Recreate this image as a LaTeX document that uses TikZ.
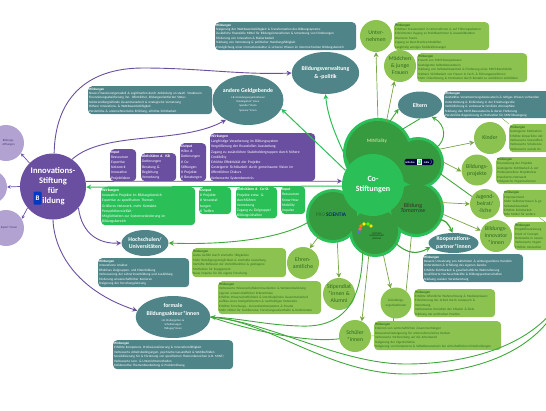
\documentclass[tikz,border=0pt]{standalone}
\usepackage{fontspec}
\setmainfont{Carlito}
\usetikzlibrary{shapes.geometric,arrows.meta,positioning,calc}
\definecolor{tealbox}{HTML}{4F8489}
\definecolor{purplemain}{HTML}{6A4FA0}
\definecolor{purplelight}{HTML}{B1A2D2}
\definecolor{greenmain}{HTML}{2BBF58}
\definecolor{greendark}{HTML}{369A3E}
\definecolor{greenlight}{HTML}{8CC350}
\definecolor{greenline}{HTML}{3FA83A}
\definecolor{greentext}{HTML}{2F6A22}
\newcommand{\subline}{\fontsize{2.8}{3.8}\selectfont\mdseries}

\begin{document}
\begin{tikzpicture}[x=1pt,y=-1pt,>={Stealth[length=5pt,width=5pt]},
            box/.style={rectangle, rounded corners=4pt, fill=#1, text=white, inner sep=1pt, anchor=north west, align=left, font=\fontsize{3.3}{4.4}\selectfont},
            smallbox/.style={box=#1, font=\fontsize{3.7}{5.2}\selectfont},
            limebox/.style={box=greenlight, text=greentext},
            blob/.style={ellipse, fill=tealbox, text=white, inner sep=0pt, align=center, font=\fontsize{5.8}{7.4}\selectfont\bfseries},
            lime/.style={circle, fill=greenlight, text=greentext, inner sep=0pt, minimum size=32pt, align=center, font=\fontsize{5.8}{7}\selectfont},
            petal/.style={circle, fill=greendark, inner sep=0pt},
            side/.style={circle, fill=purplelight, text=purplemain!70!black, inner sep=0pt, minimum size=36pt, align=center, font=\fontsize{3}{3.8}\selectfont},
            purpleline/.style={draw=purplemain, line width=0.9pt, ->},
            brightline/.style={draw=greenmain, line width=1pt},
            greenlink/.style={draw=greenline, line width=0.9pt},
            limelink/.style={draw=greenlight!85!black, line width=0.7pt}]

            \useasboundingbox (0,0) rectangle (546,410);

            % Flower outline
            \foreach \px/\py/\pr in {378/153/32, 418/163/23, 416/209/25, 375/231/23, 333/216/24}
                \fill[greenmain] (\px,\py) circle ({(\pr+3)*1pt});

            % Flower petals
            \node[petal, minimum size=64pt] (mint) at (378,153) {};
            \node[petal, minimum size=46pt] (india) at (418,163) {};
            \node[petal, minimum size=50pt] (tomorrow) at (416,209) {};
            \node[petal, minimum size=46pt] (bunt) at (375,231) {};
            \node[petal, minimum size=48pt] (scientia) at (333,216) {};
            \node[circle, fill=greenmain, text=white, inner sep=0pt, minimum size=62pt, align=center, font=\fontsize{8}{10}\selectfont\bfseries] (costift) at (373,185) {Co-\\Stiftungen};

            % Logos on the petals
            \node[text=greenlight!60!white, font=\fontsize{5}{6}\selectfont\bfseries] (mintlogo) at (377,141) {MINTality};
            \node[fill=black!75!blue, rounded corners=1.5pt, text=white, inner sep=0.6pt, font=\fontsize{2.6}{3}\selectfont\bfseries] (indialogo) at (419,162) {Initiative\hspace{9pt}India $\rangle$};
            \node[fill=greenmain, draw=white, line width=0.3pt, text=white, inner sep=0.8pt, font=\fontsize{5}{5}\selectfont\bfseries] (indiafour) at (419,161.5) {4};
            \node[text=black!80, font=\fontsize{6}{5.5}\selectfont, align=center] (tomorrowlogo) at (413,208) {Bildung\\\textit{Tomorrow}};
            \node[text=blue!55!black, font=\fontsize{5.4}{6}\selectfont] (scientialogo) at (331,215) {\textcolor{greendark!70!black}{PRO}\,SCIENTIA};
            \foreach \cx/\cy/\cc in {360/229/red!60, 361/226/orange, 364/224/yellow, 368/224/green!70!yellow, 371/226/yellow!80!orange, 359/232/blue!60}
                \fill[\cc] (\cx,\cy) circle (1.8pt);
            \node[text=greendark!30!black, align=center, font=\fontsize{2.3}{2.6}\selectfont] (buntlogo) at (377,236) {STIFTUNG\\WISSENSCHAFT\\BILDUNG};

            % Innovation foundation and its neighbours
            \node[circle, fill=purplemain, text=white, inner sep=0pt, minimum size=66pt, align=center, font=\fontsize{8.6}{10}\selectfont\bfseries] (innov) at (53,186.5) {Innovations-\\Stiftung\\für\\\hspace*{9pt}ildung\hspace*{8pt}};
            \node[rectangle, rounded corners=1pt, fill=blue!55!teal, text=white, inner sep=0pt, minimum width=8pt, minimum height=13pt, font=\fontsize{7}{7}\selectfont\bfseries] (innovlogo) at (37.5,198) {B};
            \node[side] (stiftungen) at (6,143) {\hspace*{5pt}Bildungs-\\\hspace*{5pt}stiftungen};
            \node[side, minimum size=34pt] (mitte) at (-10,187) {};
            \node[side] (expert) at (6,228) {\hspace*{6pt}Expert*innen};

            % Teal ellipses
            \node[blob, minimum width=70pt, minimum height=50pt] (geld) at (248,100) {andere Geldgebende\\[-1.5pt]\subline z.B. Gründungsorganisationen\\[-3pt]\subline Kindergarten*innen\\[-3pt]\subline Spender*innen\\[-3pt]\subline Sponsor*innen};
            \node[blob, minimum width=67pt, minimum height=42pt] (bverw) at (325.5,73) {Bildungsverwaltung\\\& -politik};
            \node[blob, minimum width=44pt, minimum height=27pt] (eltern) at (420,105) {Eltern};
            \node[blob, minimum width=46pt, minimum height=26pt] (hochschule) at (145,243) {Hochschulen/\\Universitäten};
            \node[blob, minimum width=74pt, minimum height=42pt] (formal) at (173,317) {formale\\Bildungsakteur*innen\\[-1.5pt]\subline z.B. Kindergarten- \&\\[-3pt]\subline Schulleitungen\\[-3pt]\subline Pädagog*innen};
            \node[blob, minimum width=50pt, minimum height=20pt] (koop) at (453.5,243) {Kooperations-\\partner*innen};

            % Lime circles
            \node[lime] (untern) at (376,36) {Unter-\\nehmen};
            \node[lime] (maedchen) at (400,66) {Mädchen\\\& junge\\Frauen};
            \node[lime] (kinder) at (490,138) {Kinder};
            \node[lime, minimum size=31pt] (projekt) at (477,170) {Bildungs-\\projekte};
            \node[lime, minimum size=30pt] (jugend) at (485,204) {Jugend-\\beirat/\\-liche};
            \node[lime] (innovator) at (496,236) {Bildungs-\\Innovator\\*innen};
            \node[lime] (ehren) at (303,263) {Ehren-\\amtliche};
            \node[lime] (stipendiat) at (339,294) {Stipendiat\\*innen \&\\Alumni};
            \node[lime, minimum size=31pt, font=\fontsize{3.4}{4.4}\selectfont] (gruend) at (396,303) {Gründungs-\\organisationen};
            \node[lime] (schueler) at (355,336) {Schüler\\*innen};

            % Teal boxes
            \node[box=tealbox, text width=139pt, minimum height=28pt] (wirkbverw) at (215,22) {\textbf{Wirkungen}\\Steigerung der Wettbewerbsfähigkeit \& Transformation des Bildungssystems\\Zusätzliche finanzielle Mittel für Bildungsinnovationen \& Umsetzung von Förderungen\\Förderung von Innovation \& Skalierbarkeit\\Stärkung von Vernetzung \& politischer Handlungsfähigkeit\\Ermöglichung einer Innovationskultur \& sicheren Wissen im österreichischen Bildungsbereich};
            \node[box=tealbox, text width=122pt, minimum height=28pt] (wirkgeld) at (88,86) {\textbf{Wirkungen}\\Neues Finanzierungsmodell \& Legitimation durch Anbindung an staatl. Strukturen\\Finanzierungsabsicherung inn. öffentlicher, bildungsorientierten Status\\Sektorenübergreifende Zusammenarbeit \& strategische Vernetzung\\Höhere Innovations- \& Wettbewerbsfähigkeit\\Persönliche \& unternehmerische Erfüllung, erhöhte Sichtbarkeit};
            \node[box=tealbox, text width=114pt, minimum height=27pt] (wirkeltern) at (444,91) {\textbf{Wirkungen}\\Gestärktes Verantwortungsbewusstsein \& nötiges Wissen vorhanden\\Unterstützung \& Einbindung in der Erziehungsrolle\\Verbildlichung \& verbesserte familiäre Atmosphäre\\Stärkung des MINT-Bewusstseins \& deren Förderung\\Persönliche Begeisterung \& Motivation für MINT-Bewegung};
            \node[box=tealbox, text width=89pt, minimum height=29pt] (wirkhoch) at (98,258) {\textbf{Wirkungen}\\Innovativere Ansätze\\Effektives Zielgruppen- und Elternbildung\\Verbesserung der Lehrerinnenbildung und Ausbildung\\Förderung wissenschaftlicher Karrieren\\Steigerung der Forschungsleistung};
            \node[box=tealbox, text width=118pt, minimum height=29pt] (wirkformal) at (113,340) {\textbf{Wirkungen}\\Erhöhte Kompetenz, Professionalisierung \& Innovationsfähigkeit\\Verbesserte Arbeitsbedingungen, psychische Gesundheit \& Wohlbefinden\\Sensibilisierung für \& Förderung von spezifischen Themenbereichen (z.B. MINT)\\Verbesserte Lern- \& Unterrichtsmethoden\\Kollaborative Themenbearbeitung \& Problemlösung};
            \node[box=tealbox, text width=98pt, minimum height=28pt] (wirkkoop) at (423,254) {\textbf{Wirkungen}\\Bessere Umsetzung von Aktivitäten \& wirkungsvolleres Handeln\\Unterstützen \& Erfüllung des eigenen Zwecks\\Erhöhte Sichtbarkeit \& gesellschaftliche Wahrnehmung\\Qualifizierte Nachwuchskräfte \& Bildungspartnerschaften\\Stärkung sozialer Verantwortung};

            % Purple boxes
            \node[smallbox=purplemain, text width=24pt, minimum height=32pt] (input) at (110,149) {\textbf{Input}\\Ressourcen\\Expertise\\Netzwerk\\Innovative\\Projektideen};
            \node[smallbox=purplemain, text width=33pt, minimum height=28pt] (aktiv) at (141,153) {\textbf{Aktivitäten d. ISB}\\Dotierungen\\Beratung \&\\Begleitung\\Vernetzung};
            \node[smallbox=purplemain, text width=24pt, minimum height=38pt] (output) at (180,143) {\textbf{Output}\\Höhe d.\\Dotierungen\\\# Co-\\Stiftungen\\\# Projekte\\\# Beratungen};
            \node[smallbox=purplemain, text width=103pt, minimum height=48pt] (wirkinnov) at (210,133) {\textbf{Wirkungen}\\Langfristige Verankerung im Bildungssystem\\Vergrößerung der finanziellen Ausstattung\\Zugang zu zusätzlichen Stakeholdergruppen durch höhere\\Credibility\\Erhöhte Effektivität der Projekte\\Gesteigerte Sichtbarkeit durch gemeinsame Vision im\\öffentlichen Diskurs\\Verbesserte Systemkenntnis};

            % Bright green boxes
            \node[smallbox=greenmain, text width=92pt, minimum height=38pt] (wirkco) at (101,187) {\textbf{Wirkungen}\\Innovative Projekte im Bildungsbereich\\Expertise zu spezifischen Themen\\Größeres Netzwerk, mehr Kontakte\\Perspektivenvielfalt\\Möglichkeiten zur Systemveränderung im\\Bildungsbereich};
            \node[smallbox=greenmain, text width=30pt, minimum height=27pt] (outco) at (199,187) {\textbf{Output}\\\# Projekte\\\# Veranstal-\\tungen\\\# Treffen};
            \node[smallbox=greenmain, text width=39pt, minimum height=31pt] (aktivco) at (236,187) {\textbf{Aktivitäten d. Co-St.}\\Projekte entw. \&\\durchführen\\Vernetzung\\Zugang zu Zielgruppe/\\Bildungsinhalten};
            \node[smallbox=greenmain, text width=22pt, minimum height=28pt] (inco) at (281,186) {\textbf{Input}\\Ressourcen\\Know-How\\Mobility\\Impulse};

            % Lime boxes
            \node[limebox, text width=93pt, minimum height=28pt] (wirkuntern) at (394,22) {\textbf{Wirkungen}\\Erhöhter Frauenanteil in Unternehmen \& auf Führungsebenen\\Erleichterter Zugang zu Praktikantinnen \& Auszubildenden\\Diversere Teams\\Zugang zu Best-Practice-Modellen\\Langfristig weniger Fachkräftemangel};
            \node[limebox, text width=108pt, minimum height=29pt] (wirkmaedchen) at (417,53) {\textbf{Wirkungen}\\Erwerb von MINT-Kompetenzen\\Gesteigertes Selbstbewusstsein\\Stärkung von Selbstwirksamkeit \& Förderung eines MINT-Berufsfelds\\Stärkere Sichtbarkeit von Frauen in Fach- \& Führungspositionen\\Mehr Orientierung \& Motivation durch Kontakt zu weiblichen Vorbildern};
            \node[limebox, text width=60pt, minimum height=28pt] (wirkkinder) at (509,124) {\textbf{Wirkungen}\\Gesteigerte Motivation\\Erhöhte körperliche Akt\\Verbesserte Gesundheit\\Verbesserte Schulleistu\\Verbesserte soziale Ko};
            \node[limebox, text width=70pt, minimum height=27pt] (wirkprojekt) at (496,157) {\textbf{Wirkungen}\\Finanzierung der Projekte\\Gesteigerte Sichtbarkeit \& ext\\Professionellere Projektentw\\Erweitertes Netzwerk\\Erfolgreiche Organisationsen};
            \node[limebox, text width=70pt, minimum height=27pt] (wirkjugend) at (503,190) {\textbf{Wirkungen}\\Empowerment\\Mehr Selbstvertrauen \& ge\\Selbstwirksamkeit\\Erhöhte Sichtbarkeit\\Role Model für andere};
            \node[limebox, text width=60pt, minimum height=28pt] (wirkinnovator) at (514,222) {\textbf{Wirkungen}\\Projektfinanzierung\\Proof of Concept\\Netzwerke in neuen\\Verbesserte Organi\\Erhöhte Innovation};
            \node[limebox, text width=92pt, minimum height=29pt] (wirkehren) at (192,248) {\textbf{Wirkungen}\\Gutes Gefühl durch sinnhafte Tätigkeiten\\Mehr Beteiligungsmöglichkeit \& sinnhafte Gestaltung\\Vertiefte Reflexion der Vorbildfunktion \& gestiegene\\Motivation für Engagement\\Neue Impulse für die eigene Forschung};
            \node[limebox, text width=101pt, minimum height=33pt] (wirkstip) at (218,281) {\textbf{Wirkungen}\\Verbesserte Wissenschaftskommunikation \& Weiterentwicklung\\eigener wissenschaftlicher Erkenntnisse\\Erhöhte Wissenschaftlichkeit \& interdisziplinäre Zusammenarbeit\\Aufbau eines breitgefächerten \& nachhaltigen Netzwerks\\Erhöhte Forschungs-, Innovationskompetenz \& Freude\\Mehr Mittel für Fachliteratur, Forschungsaufenthalte \& Konferenzen};
            \node[limebox, text width=79pt, minimum height=28pt] (wirkgruend) at (414,289) {\textbf{Wirkungen}\\Erhöhte öffentliche Wahrnehmung \& Medienpräsenz\\Erleichterung der Arbeit durch Austausch \&\\Vernetzung\\Verbessertes Erreichen der Mission \& Ziele\\Stärkung der politischen Position};
            \node[limebox, text width=125pt, minimum height=29pt] (wirkschueler) at (374,321) {\textbf{Wirkungen}\\Erlernen von wirtschaftlichen Zusammenhängen\\Bewusstseinssteigerung für unternehmerisches Denken\\Verbesserte Vorbereitung auf die Arbeitswelt\\Steigerung der Eigeninitiative\\Steigerung von Kompetenz \& Selbstbewusstsein bei wirtschaftlichen Entscheidungen};

            % Free ends on the right margin
            \coordinate (exita) at (552,312);
            \coordinate (exitb) at (552,316);

            % Purple connections
            \draw[purpleline] (innov.55) .. controls (105,130) and (180,145) .. (geld.222);
            \draw[purpleline] (innov.88) .. controls (55,100) and (85,68) .. (143,68) .. controls (200,68) and (240,75) .. (bverw.west);
            \draw[purpleline] (innov.9) -- (costift.173);
            \draw[purpleline] (innov.-40) .. controls (82,235) and (100,244) .. (hochschule.west);
            \draw[purpleline] (innov.-90) .. controls (54,250) and (75,290) .. (formal.170);
            \draw[purpleline, line width=0.7pt, >={Stealth[length=3.5pt,width=3.5pt]}] (innov.135) -- (stiftungen.-35);
            \draw[purpleline, line width=0.7pt, >={Stealth[length=3.5pt,width=3.5pt]}] (innov.180) -- (mitte.east);
            \draw[purpleline, line width=0.7pt, >={Stealth[length=3.5pt,width=3.5pt]}] (innov.-140) -- (expert.30);

            % Green connections back to the left
            \draw[brightline, ->] (costift.182) -- (innov.-1);
            \draw[brightline, ->] (costift.152) -- (geld.-15);
            \draw[brightline, ->] (costift.140) .. controls (338,140) and (328,120) .. (bverw.south);
            \draw[greenlink, ->] (scientia.193) .. controls (280,240) and (220,245) .. (hochschule.east);
            \draw[limelink, ->] (scientia.-125) -- (ehren.65);
            \draw[limelink, ->] (scientia.-80) -- (stipendiat.north);

            % Lines into the formal actors
            \draw[greenlink] (bunt.-122) .. controls (362,300) and (345,328) .. (300,326) .. controls (265,325) and (240,318) .. (formal.east);
            \draw[greenlink] (schueler.190) .. controls (305,343) and (250,330) .. (formal.east);
            \draw[greenlink] (exita) .. controls (520,350) and (460,364) .. (406,364) .. controls (340,364) and (270,322) .. (formal.east);
            \draw[greenlink, ->] (exitb) .. controls (525,355) and (470,374) .. (406,374) .. controls (330,374) and (270,322) .. (formal.east);

            % Lines below the flower
            \draw[limelink, ->] (bunt.-105) -- (schueler.65);
            \draw[limelink, ->] (bunt.-70) -- (gruend.110);
            \draw[limelink] (tomorrow.-100) -- (gruend.50);
            \draw[greenlink, line width=1.1pt, ->] (bunt.-30) .. controls (408,255) and (418,254) .. (koop.190);
            \draw[greenlink, line width=1.3pt, ->] (tomorrow.-27) .. controls (445,218) and (449,225) .. (koop.95);

            % Lines to the top and the right
            \draw[limelink, ->] (mint.90) -- (untern.south);
            \draw[limelink, ->] (mint.75) -- (maedchen.-110);
            \draw[greenlink, ->] (mint.70) -- (eltern.190);
            \draw[greenlink] (mint.45) -- (eltern.south);
            \draw[greenlink, ->] (india.40) .. controls (447,140) and (446,125) .. (eltern.-45);
            \draw[limelink, ->] (india.35) -- (kinder.195);
            \draw[limelink, ->] (india.5) -- (projekt.185);
            \draw[greenlink] (india.-25) -- (jugend.150);
            \draw[limelink, ->] (tomorrow.15) -- (jugend.west);
            \draw[limelink, ->] (tomorrow.-10) -- (innovator.160);

            % Thin links between boxes
            \draw[limelink, line width=0.4pt] (wirkeltern.south) -- (wirkkinder.north west);
            \draw[limelink, line width=0.4pt] (wirkjugend.south) -- (wirkinnovator.north);
            \draw[limelink, line width=0.4pt] (schueler.east) -- (wirkschueler.west);
            \draw[limelink, line width=0.4pt] (gruend.-100) -- (gruend.-100 |- wirkschueler.north);
        \end{tikzpicture}
\end{document}
